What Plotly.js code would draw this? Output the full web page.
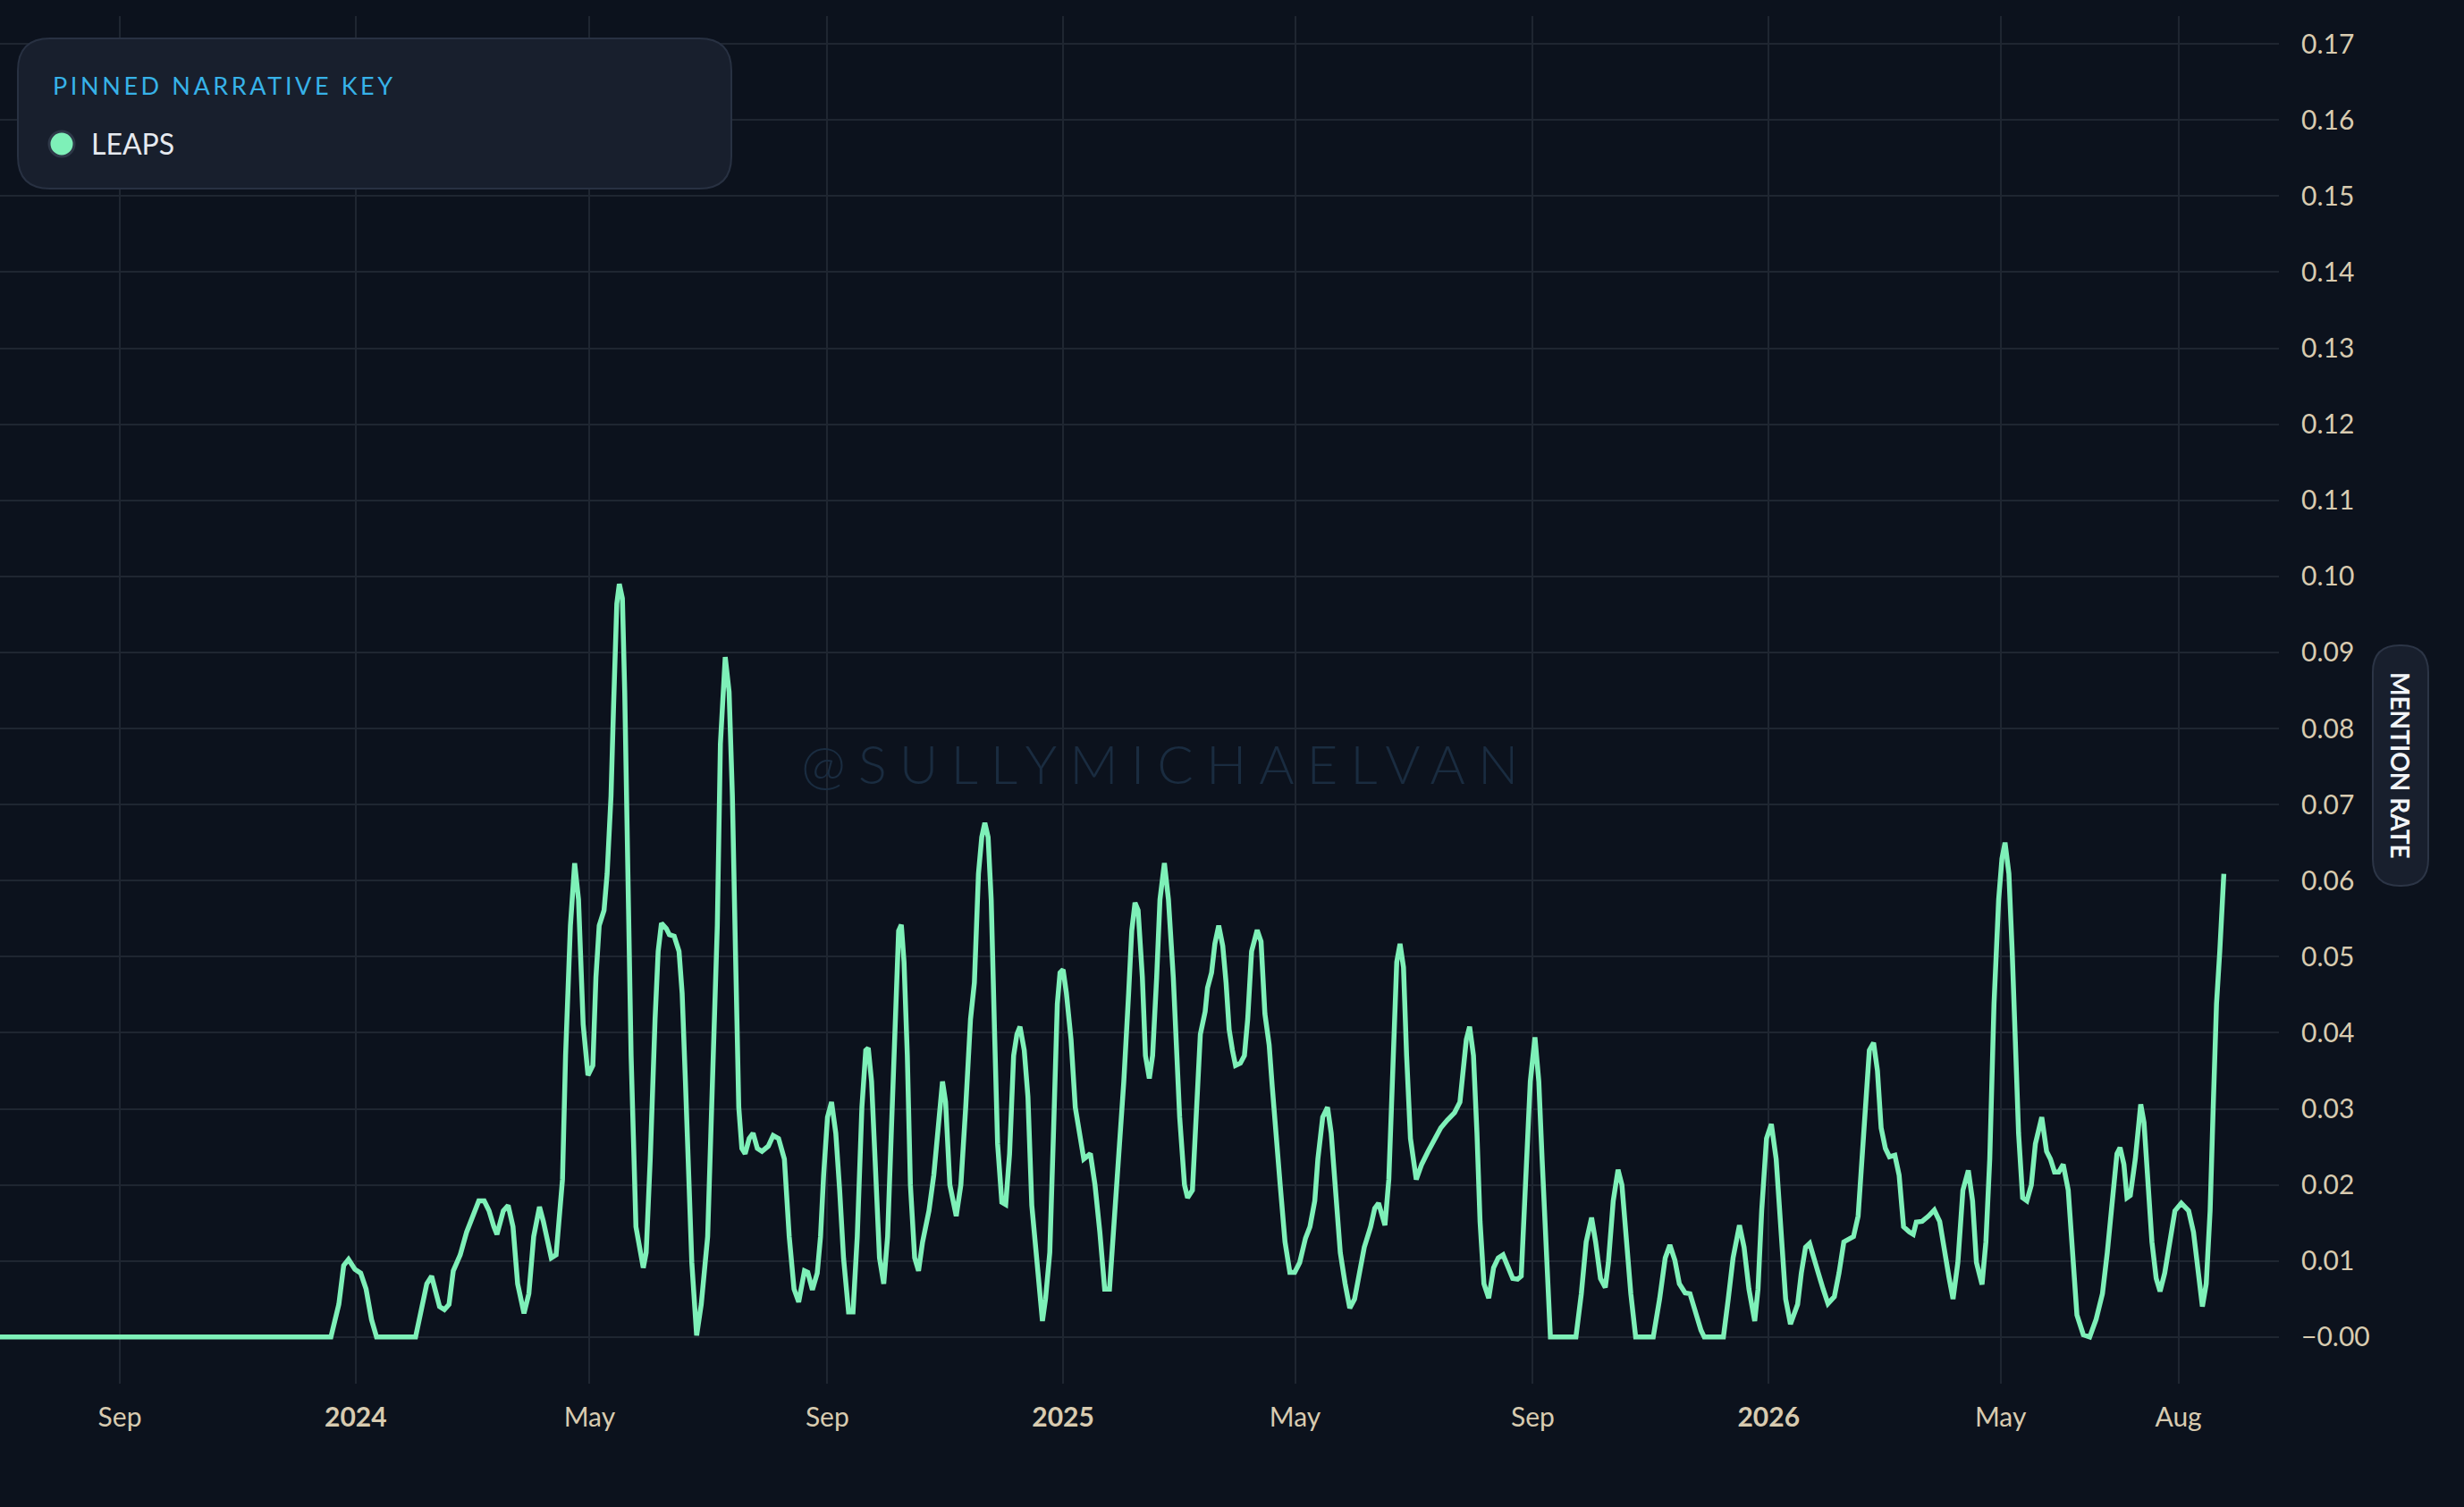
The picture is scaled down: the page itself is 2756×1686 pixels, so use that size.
<!DOCTYPE html>
<html>
<head>
<meta charset="utf-8">
<script src="https://cdn.plot.ly/plotly-3.0.1.min.js"></script>
<style>
  html, body { margin: 0; padding: 0; background: #0c121d; }
  #chart { width: 2756px; height: 1686px; }
</style>
</head>
<body>
<div id="chart"></div>
<script>
// ---- Data ----
const seriesName = "LEAPS";
const baseDate = "2024-01-01";
// days since 2024-01-01
const daysSince2024 = [
  -200, -12.8, -8.7, -6.2, -3.7, -0.4, 2.6, 5.4, 8.2, 10.8, 31.0,
  34.3, 36.8, 39.3, 41.3, 43.4, 45.9, 48.3, 50.5, 54.1, 57.4, 60.7, 63.7, 66.5, 69.0, 71.5, 73.1, 76.4, 78.9, 81.4, 83.8,
  87.1, 89.6, 92.1, 95.1, 97.1, 99.1, 101.2, 103.7, 105.3, 107.0, 108.6, 111.1, 113.3, 115.3, 117.7, 120.2, 122.7, 124.3,
  126.0, 128.5, 130.1, 132.1, 133.4, 135.1, 136.4, 138.0, 139.2, 140.8, 142.5, 145.0, 147.5, 148.8, 150.3, 152.4, 154.9,
  156.5, 158.2, 160.7, 162.3, 164.8, 167.3, 168.9, 170.6, 172.2, 173.9, 176.4, 178.8, 182.1, 184.6, 187.1, 188.7, 191.2,
  193.2, 194.9, 196.5, 198.2, 199.8, 201.5, 203.6, 205.6, 207.8, 210.2, 213.5, 216.0, 218.8, 221.8, 224.3, 226.8, 229.2, 232.2,
  233.9, 236.3, 238.8, 240.5, 242.1, 244.1, 246.2, 248.4, 250.4, 252.4, 255.0, 257.3, 259.5, 261.9, 263.9, 265.2, 266.9,
  268.5, 271.0, 273.2, 275.2, 277.1, 279.3, 280.9, 282.3, 283.7, 285.4, 287.0, 289.2, 291.2, 293.3, 296.6, 299.1, 301.6,
  303.6, 305.2, 307.4, 310.7, 313.1, 315.6, 318.1, 320.1, 322.2, 323.9, 325.5, 327.2, 328.8, 330.5, 332.1, 334.3, 336.3,
  338.3, 340.4, 342.1, 343.7, 345.9, 347.8, 349.8, 352.0, 353.6, 355.3, 356.9, 359.1, 361.1, 363.0, 364.4, 366.0, 367.7,
  370.1, 372.3, 374.6, 376.7, 380.1, 382.5, 385.0, 387.5, 390.0, 392.1, 394.9, 397.4, 399.9, 401.5, 403.2, 404.8, 407.0,
  408.6, 410.6, 412.3, 414.4, 416.1, 418.4, 420.5, 423.0, 424.7, 426.3, 428.8, 430.4, 432.9, 435.1, 437.0, 439.5, 440.7,
  442.8, 444.5, 446.5, 448.6, 450.3, 451.9, 453.6, 455.2, 457.7, 459.8, 461.5, 463.5, 466.4, 468.4, 470.4, 472.6, 474.2,
  475.9, 478.3, 480.8, 483.3, 485.8, 488.4, 491.4,
  493.7, 496.2, 497.8, 500.3, 502.8, 504.7, 506.9, 509.4, 511.9, 514.3, 516.8, 519.3, 521.8, 525.1, 527.2, 529.2, 532.5,
  534.5, 536.6, 538.6, 540.3, 542.1, 543.7, 545.7, 548.7, 551.5, 554.8, 558.1, 561.4, 564.7, 568.5, 571.3, 573.0, 574.6,
  576.3, 578.3, 580.1, 581.7, 583.7, 586.2, 588.7, 591.1, 593.6, 596.1, 598.6, 601.1, 603.0, 605.2, 607.7, 610.1, 612.1,
  613.8, 615.4, 616.8, 618.1, 631.3, 634.1, 636.6, 639.4, 641.5, 644.0, 646.5, 648.1, 650.6, 653.1, 655.1, 657.2, 659.7,
  662.2, 671.3, 674.6, 677.5, 679.9, 682.5, 684.8, 687.8, 690.3, 692.7, 696.0, 697.7, 707.6, 710.1, 712.6, 715.9, 718.3,
  720.8, 723.8, 725.5, 727.4, 729.9, 732.4, 734.9, 737.3, 739.8, 742.3,
  746.0, 747.9, 750.1, 752.2, 754.2, 756.7, 759.2, 761.7, 765.0, 767.4, 769.9, 772.4, 774.9, 777.3, 779.3, 781.0, 783.1,
  785.3, 787.3, 789.2, 791.4, 793.5, 796.3, 798.5, 800.8, 803.8, 805.8, 807.4, 810.4, 813.7, 816.7, 819.5, 822.0, 824.4,
  826.4, 828.9, 831.5, 834.3, 836.5, 838.5, 841.4, 843.4, 845.4, 847.6, 850.0, 851.7, 853.3, 855.3, 857.0, 858.6, 860.3,
  862.4, 864.6, 866.9, 869.0, 872.3, 874.8, 876.8, 878.9, 881.1, 883.4, 886.0, 888.0, 890.5, 893.8, 897.1, 900.4, 903.7,
  906.2, 908.7, 911.2, 912.8, 914.8, 916.4, 918.1, 920.7, 922.2, 923.5, 925.2, 927.3, 929.3, 931.5, 933.5, 935.9, 938.4,
  941.2, 944.5, 948.3, 950.8, 953.3, 955.4, 957.4, 959.4, 961.0, 962.7, 964.4, 966.5
];
const mentionRate = [
  0, 0, 0.0043, 0.0094, 0.0102, 0.0089, 0.0084, 0.0063, 0.0023, 0, 0,
  0.0036, 0.0070, 0.0080, 0.0063, 0.0040, 0.0036, 0.0043, 0.0087, 0.0108, 0.0138, 0.0159, 0.0179, 0.0179, 0.0166, 0.0145, 0.0135, 0.0166, 0.0173, 0.0145, 0.0070,
  0.0031, 0.0057, 0.0132, 0.0171, 0.0152, 0.0125, 0.0104, 0.0108, 0.0166, 0.0207, 0.0370, 0.0541, 0.0623, 0.0575, 0.0411, 0.0344, 0.0357, 0.0473,
  0.0541, 0.0561, 0.0609, 0.0711, 0.0827, 0.0964, 0.0990, 0.0971, 0.0848, 0.0643, 0.0370, 0.0145, 0.0104, 0.0091, 0.0111, 0.0234, 0.0418,
  0.0507, 0.0544, 0.0537, 0.0529, 0.0527, 0.0507, 0.0452, 0.0336, 0.0200, 0.0098, 0.0002, 0.0043, 0.0132, 0.0316, 0.0541, 0.0780, 0.0894,
  0.0848, 0.0711, 0.0507, 0.0302, 0.0248, 0.0241, 0.0261, 0.0268, 0.0248, 0.0244, 0.0251, 0.0265, 0.0261, 0.0234, 0.0132, 0.0063, 0.0046, 0.0087,
  0.0085, 0.0062, 0.0084, 0.0132, 0.0213, 0.0289, 0.0309, 0.0268, 0.0193, 0.0104, 0.0033, 0.0033, 0.0132, 0.0302, 0.0377, 0.0380, 0.0336,
  0.0234, 0.0104, 0.0070, 0.0132, 0.0268, 0.0438, 0.0534, 0.0542, 0.0493, 0.0370, 0.0200, 0.0104, 0.0087, 0.0125, 0.0166, 0.0213, 0.0289,
  0.0336, 0.0309, 0.0200, 0.0159, 0.0200, 0.0302, 0.0418, 0.0466, 0.0609, 0.0657, 0.0676, 0.0657, 0.0575, 0.0404, 0.0254, 0.0177, 0.0174,
  0.0241, 0.0370, 0.0398, 0.0408, 0.0377, 0.0316, 0.0173, 0.0111, 0.0057, 0.0021, 0.0050, 0.0111, 0.0275, 0.0438, 0.0479, 0.0483, 0.0452,
  0.0391, 0.0302, 0.0268, 0.0234, 0.0241, 0.0200, 0.0138, 0.0063, 0.0063, 0.0138, 0.0241, 0.0336, 0.0452, 0.0534, 0.0571, 0.0561, 0.0473,
  0.0370, 0.0340, 0.0370, 0.0473, 0.0575, 0.0623, 0.0575, 0.0473, 0.0370, 0.0289, 0.0200, 0.0183, 0.0193, 0.0289, 0.0398, 0.0428, 0.0459,
  0.0479, 0.0517, 0.0541, 0.0514, 0.0466, 0.0404, 0.0377, 0.0357, 0.0360, 0.0370, 0.0418, 0.0507, 0.0535, 0.0520, 0.0425, 0.0384, 0.0329,
  0.0268, 0.0200, 0.0125, 0.0085, 0.0085, 0.0098, 0.0130,
  0.0145, 0.0179, 0.0234, 0.0289, 0.0302, 0.0268, 0.0200, 0.0111, 0.0070, 0.0038, 0.0050, 0.0084, 0.0118, 0.0145, 0.0169, 0.0176, 0.0147,
  0.0207, 0.0370, 0.0493, 0.0517, 0.0486, 0.0370, 0.0261, 0.0207, 0.0227, 0.0244, 0.0261, 0.0275, 0.0285, 0.0295, 0.0309, 0.0357, 0.0391,
  0.0408, 0.0370, 0.0268, 0.0152, 0.0070, 0.0051, 0.0091, 0.0104, 0.0108, 0.0091, 0.0077, 0.0076, 0.0080, 0.0200, 0.0336, 0.0394, 0.0336,
  0.0234, 0.0132, 0.0063, 0, 0, 0.0057, 0.0125, 0.0157, 0.0125, 0.0077, 0.0065, 0.0098, 0.0179, 0.0220, 0.0200, 0.0132, 0.0057,
  0, 0, 0.0050, 0.0104, 0.0121, 0.0101, 0.0070, 0.0058, 0.0057, 0.0036, 0.0009, 0, 0, 0.0050, 0.0104, 0.0147, 0.0118,
  0.0063, 0.0021, 0.0063, 0.0166, 0.0261, 0.0280, 0.0234, 0.0132, 0.0050, 0.0017,
  0.0043, 0.0084, 0.0118, 0.0123, 0.0104, 0.0084, 0.0063, 0.0044, 0.0053, 0.0084, 0.0125, 0.0128, 0.0132, 0.0159, 0.0234, 0.0316, 0.0377,
  0.0387, 0.0350, 0.0275, 0.0248, 0.0237, 0.0239, 0.0213, 0.0145, 0.0138, 0.0135, 0.0151, 0.0152, 0.0159, 0.0167, 0.0152, 0.0111, 0.0077,
  0.0050, 0.0098, 0.0193, 0.0219, 0.0179, 0.0098, 0.0069, 0.0125, 0.0234, 0.0438, 0.0575, 0.0629, 0.0650, 0.0609, 0.0507, 0.0370, 0.0268,
  0.0183, 0.0179, 0.0200, 0.0254, 0.0289, 0.0244, 0.0234, 0.0217, 0.0217, 0.0227, 0.0193, 0.0111, 0.0029, 0.0003, 0, 0.0023, 0.0057,
  0.0111, 0.0179, 0.0241, 0.0249, 0.0227, 0.0183, 0.0186, 0.0234, 0.0282, 0.0306, 0.0282, 0.0200, 0.0125, 0.0077, 0.0060, 0.0084, 0.0125,
  0.0166, 0.0176, 0.0166, 0.0138, 0.0084, 0.0040, 0.0070, 0.0166, 0.0302, 0.0438, 0.0507, 0.0609
];
const xTickDates = ["2023-09-01","2024-01-01","2024-05-01","2024-09-01","2025-01-01","2025-05-01","2025-09-01","2026-01-01","2026-05-01","2026-08-01"];
const xTickLabels = ["Sep","<b>2024</b>","May","Sep","<b>2025</b>","May","Sep","<b>2026</b>","May","Aug"];
const yTickValues = [0,0.01,0.02,0.03,0.04,0.05,0.06,0.07,0.08,0.09,0.10,0.11,0.12,0.13,0.14,0.15,0.16,0.17];
const yTickLabels = ["\u22120.00","0.01","0.02","0.03","0.04","0.05","0.06","0.07","0.08","0.09","0.10","0.11","0.12","0.13","0.14","0.15","0.16","0.17"];
const legendTitle = "PINNED NARRATIVE KEY";
const axisTitle = "MENTION RATE";
const watermark = "@SULLYMICHAELVAN";

// ---- Build ----
const baseMs = Date.parse(baseDate + "T00:00:00Z");
function toIso(d) {
  const t = new Date(baseMs + d * 86400000);
  return t.toISOString().slice(0, 19).replace("T", " ");
}
const xDates = daysSince2024.map(toIso);

const W = 2756, H = 1686;
const M = { l: 0, r: 207, t: 18, b: 138 };
const PW = W - M.l - M.r, PH = H - M.t - M.b;
const px = x => (x - M.l) / PW;
const py = y => (H - M.b - y) / PH;

function roundRect(x0, y0, x1, y1, r) {
  const pts = (x, y) => px(x) + "," + py(y);
  return "M" + pts(x0 + r, y0) + " L" + pts(x1 - r, y0) + " Q" + pts(x1, y0) + " " + pts(x1, y0 + r) +
    " L" + pts(x1, y1 - r) + " Q" + pts(x1, y1) + " " + pts(x1 - r, y1) +
    " L" + pts(x0 + r, y1) + " Q" + pts(x0, y1) + " " + pts(x0, y1 - r) +
    " L" + pts(x0, y0 + r) + " Q" + pts(x0, y0) + " " + pts(x0 + r, y0) + " Z";
}

const FONT = "Lato, 'Noto Sans', sans-serif";
const TICK_COLOR = "#d8cbb0";
const GRID = "#1f2631";
const TITLE_SPACING = 3.6;   // px letter spacing of legend title
const WM_SPACING = 14;       // px letter spacing of watermark

const trace = {
  type: "scatter",
  mode: "lines",
  name: seriesName,
  x: xDates,
  y: mentionRate,
  line: { color: "#7ef0b8", width: 5.5, shape: "linear" },
  showlegend: false,
  hoverinfo: "skip"
};

const layout = {
  width: W, height: H,
  margin: M,
  paper_bgcolor: "#0c121d",
  plot_bgcolor: "#0c121d",
  showlegend: false,
  xaxis: {
    type: "date",
    range: ["2023-07-01", "2026-09-22"],
    tickmode: "array",
    tickvals: xTickDates,
    ticktext: xTickLabels,
    showgrid: true, gridcolor: GRID, gridwidth: 2,
    zeroline: false, showline: false, ticks: "",
    ticklabelstandoff: 17,
    tickfont: { family: FONT, size: 30, color: TICK_COLOR }
  },
  yaxis: {
    side: "right",
    range: [-0.00613, 0.17366],
    tickmode: "array",
    tickvals: yTickValues,
    ticktext: yTickLabels,
    showgrid: true, gridcolor: GRID, gridwidth: 2,
    zeroline: false, showline: false, ticks: "",
    ticklabelstandoff: 24,
    tickfont: { family: FONT, size: 30, color: TICK_COLOR }
  },
  shapes: [
    { type: "path", xref: "paper", yref: "paper", layer: "above",
      path: roundRect(20, 43, 818, 211, 36),
      fillcolor: "#181f2d", line: { color: "#283142", width: 2 } },
    { type: "circle", xref: "paper", yref: "paper", layer: "above",
      x0: px(55), x1: px(83), y0: py(175), y1: py(147),
      fillcolor: "#7ef0b8", line: { color: "#2e3848", width: 3 } },
    { type: "path", xref: "paper", yref: "paper", layer: "above",
      path: roundRect(2654, 722, 2716, 991, 30),
      fillcolor: "#181f2d", line: { color: "#2c3546", width: 2 } }
  ],
  annotations: [
    { xref: "paper", yref: "paper", x: px(1297 + WM_SPACING / 2), y: py(854), xanchor: "center", yanchor: "middle",
      text: watermark, showarrow: false,
      font: { family: FONT, size: 60, color: "#1a2c40", weight: 300 } },
    { xref: "paper", yref: "paper", x: px(57 + legendTitle.length * TITLE_SPACING / 2), y: py(95), xanchor: "left", yanchor: "middle",
      text: legendTitle, showarrow: false,
      font: { family: FONT, size: 27, color: "#37b2e8" } },
    { xref: "paper", yref: "paper", x: px(100), y: py(160), xanchor: "left", yanchor: "middle",
      text: seriesName, showarrow: false,
      font: { family: FONT, size: 32, color: "#e6eaf0" } },
    { xref: "paper", yref: "paper", x: px(2685), y: py(856), xanchor: "center", yanchor: "middle",
      text: "<b>" + axisTitle + "</b>", textangle: 90, showarrow: false,
      font: { family: FONT, size: 28, color: "#f2f4f7" } }
  ]
};

Plotly.newPlot("chart", [trace], layout, { staticPlot: true, displayModeBar: false }).then(() => {
  document.querySelectorAll(".annotation-text").forEach(el => {
    const t = el.textContent;
    if (t === watermark) el.style.letterSpacing = WM_SPACING + "px";
    if (t === legendTitle) el.style.letterSpacing = TITLE_SPACING + "px";
  });
});
</script>
</body>
</html>
